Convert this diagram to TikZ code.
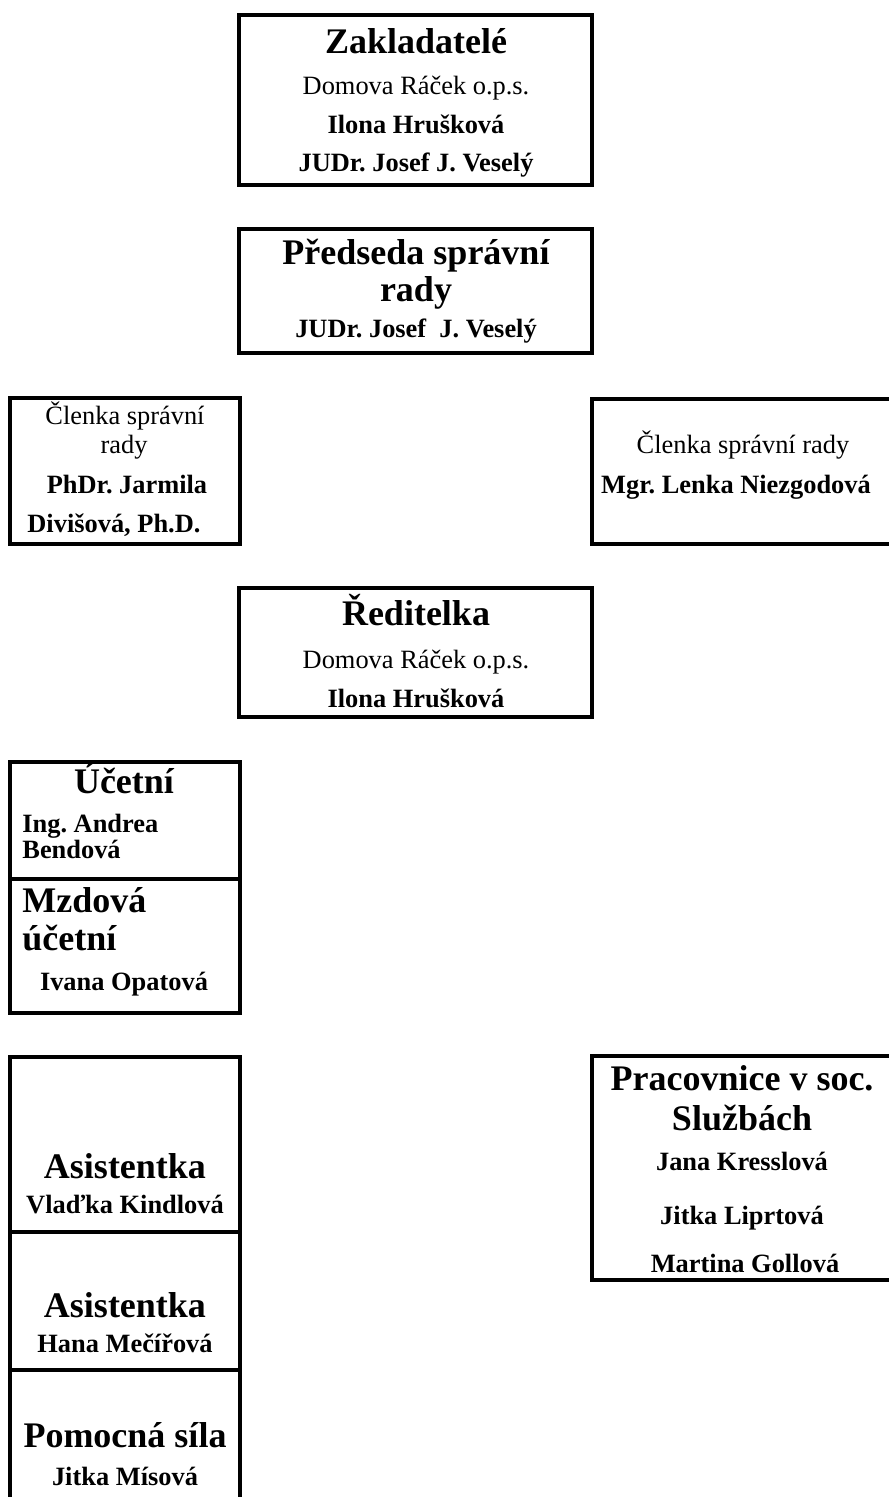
\documentclass[tikz,border=0pt]{standalone}
\usepackage{fontspec}
\setmainfont{Liberation Serif}
\frenchspacing
\begin{document}
\begin{tikzpicture}[x=0.5pt,y=-0.5pt,
  orgbox/.style={draw=black, line width=1.7pt, rectangle, inner sep=0pt, outer sep=0pt},
  ttl/.style={font=\bfseries\fontsize{18}{20}\selectfont, anchor=base, inner sep=0pt},
  nm/.style={font=\bfseries\fontsize{13.2}{15}\selectfont, anchor=base, inner sep=0pt},
  rg/.style={font=\fontsize{13.2}{15}\selectfont, anchor=base, inner sep=0pt}]
\useasboundingbox (0,0) rectangle (888,1497);
% boxes
\node[orgbox, minimum width=176.5pt, minimum height=85pt] (zak) at (415.5,100) {};
\node[orgbox, minimum width=176.5pt, minimum height=62pt] (pred) at (415.5,291) {};
\node[orgbox, minimum width=115pt, minimum height=73pt] (cl1) at (125,471) {};
\node[orgbox, minimum width=154pt, minimum height=72.5pt] (cl2) at (746,471.5) {};
\node[orgbox, minimum width=176.5pt, minimum height=64.5pt] (red) at (415.5,652.5) {};
\node[orgbox, minimum width=115pt, minimum height=58.5pt] (uc) at (125,820.5) {};
\node[orgbox, minimum width=115pt, minimum height=67pt] (mz) at (125,946) {};
\node[orgbox, minimum width=115pt, minimum height=87.5pt] (as1) at (125,1144.5) {};
\node[orgbox, minimum width=115pt, minimum height=69pt] (as2) at (125,1301) {};
\node[orgbox, minimum width=115pt, minimum height=70pt] (pom) at (125,1440) {};
\node[orgbox, minimum width=154pt, minimum height=112pt] (pra) at (746,1168) {};
% Zakladatele
\node[ttl] (t1) at (416,54) {Zakladatelé};
\node[rg] (t2) at (416,95) {Domova Ráček o.p.s.};
\node[nm] (t3) at (416,134) {Ilona Hrušková};
\node[nm] (t4) at (416,172) {JUDr. Josef J. Veselý};
% Predseda
\node[ttl] (t5) at (416,265) {Předseda správní};
\node[ttl] (t6) at (416,302) {rady};
\node[nm] (t7) at (416,338) {JUDr. Josef\ \ J. Veselý};
% Clenka 1
\node[rg] (t8) at (125,425) {Členka správní};
\node[rg] (t9) at (124,453) {rady};
\node[nm] (t10) at (127,493) {PhDr. Jarmila};
\node[nm, anchor=base west] (t11) at (27,532) {Divišová, Ph.D.};
% Clenka 2
\node[rg] (t12) at (743,453) {Členka správní rady};
\node[nm] (t13) at (736,493) {Mgr. Lenka Niezgodová};
% Reditelka
\node[ttl] (t14) at (416,625) {Ředitelka};
\node[rg] (t15) at (416,668) {Domova Ráček o.p.s.};
\node[nm] (t16) at (416,707) {Ilona Hrušková};
% Ucetni
\node[ttl] (t17) at (124,793) {Účetní};
\node[nm, anchor=base west] (t18) at (22,832) {Ing. Andrea};
\node[nm, anchor=base west] (t19) at (22,858) {Bendová};
\node[ttl, anchor=base west] (t20) at (22,912) {Mzdová};
\node[ttl, anchor=base west] (t21) at (22,950) {účetní};
\node[nm] (t22) at (124,990) {Ivana Opatová};
% Asistentky
\node[ttl] (t23) at (125,1178) {Asistentka};
\node[nm] (t24) at (125,1213) {Vlaďka Kindlová};
\node[ttl] (t25) at (125,1317) {Asistentka};
\node[nm] (t26) at (125,1352) {Hana Mečířová};
\node[ttl] (t27) at (125,1447) {Pomocná síla};
\node[nm] (t28) at (125,1485) {Jitka Mísová};
% Pracovnice
\node[ttl] (t29) at (742,1090) {Pracovnice v soc.};
\node[ttl] (t30) at (742,1130) {Službách};
\node[nm] (t31) at (742,1170) {Jana Kresslová};
\node[nm] (t32) at (742,1224) {Jitka Liprtová};
\node[nm] (t33) at (745,1272) {Martina Gollová};
\end{tikzpicture}
\end{document}
